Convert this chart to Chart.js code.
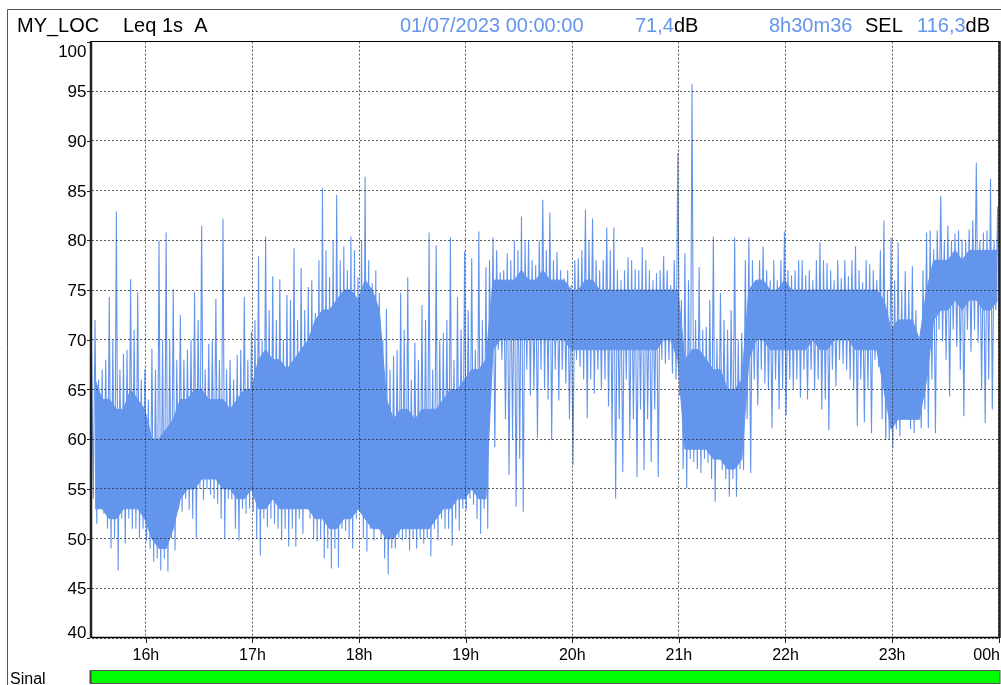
<!DOCTYPE html>
<html>
<head>
<meta charset="utf-8">
<script src="https://cdn.jsdelivr.net/npm/chart.js@4.4.1/dist/chart.umd.min.js"></script>
<style>
  html, body { margin: 0; padding: 0; background: #fff; }
  #wrap { width: 1001px; height: 685px; }
</style>
</head>
<body>
<div id="wrap"><canvas id="levelChart" width="1001" height="685"></canvas></div>
<script>
// DATA
const START_H = 15.49;   // 15:29:24
const END_H = 24;        // 00:00:00

const hourTicks = [16, 17, 18, 19, 20, 21, 22, 23, 24];
const hourLabels = ["16h", "17h", "18h", "19h", "20h", "21h", "22h", "23h", "00h"];
const levelTicks = [40, 45, 50, 55, 60, 65, 70, 75, 80, 85, 90, 95, 100];

// Leq 1s, max / min level in each 4 minute window (dB)
const windowMax = [
  72, 67, 74.3, 82.9, 68.6, 76.1, 74.8, 67, 69.1, 80,
  80.8, 75.1, 72.5, 69, 74.8, 81.5, 69.6, 74.1, 82.2, 68,
  68.5, 74.3, 70.8, 78.4, 80.4, 76.4, 76.1, 74.5, 79.2, 77.2,
  75.3, 72.7, 85.3, 76.3, 84.6, 79.4, 80.4, 76.3, 86.4, 75.7,
  74.7, 73.1, 68.4, 74.7, 76.3, 69.7, 73.5, 80.8, 79.5, 70.7,
  80.3, 74.3, 78.9, 78.2, 80.9, 77.3, 80.3, 76.8, 78.7, 80,
  82.4, 80, 77.5, 84.1, 82.8, 78.8, 76.2, 75.5, 78.2, 83.1,
  82.2, 77, 81.3, 81.3, 76, 78.3, 77.1, 79.3, 77, 76.7,
  78.4, 75.5, 88.8, 78.7, 95.7, 77.3, 71.3, 80.4, 74.7, 71,
  80.3, 70.7, 80.3, 76, 79.4, 76, 76, 80.9, 76.5, 78,
  76.5, 76, 79.8, 77.7, 76, 76.2, 76.4, 79.4, 75.8, 77.6,
  76, 82, 80.3, 79.8, 76.9, 77.4, 70, 80.8, 79.1, 84.5,
  81.5, 80.7, 80.1, 81.1, 87.8, 80.8, 86.2, 83.4
];
const windowMin = [
  51.5, 52.5, 49, 46.8, 49.5, 51, 50, 49.7, 47.7, 46.8,
  46.7, 48.8, 52.7, 52.9, 50, 53.9, 54.4, 53.5, 50, 53.9,
  49.8, 52.5, 52.7, 48.3, 51.2, 51.5, 49.8, 49.2, 49.2, 50.5,
  52, 49.7, 48, 47, 47.1, 50.8, 49, 53.5, 48.7, 49.8,
  50, 46.4, 49, 49.8, 48.8, 49, 49.5, 48.2, 49.8, 51,
  49.3, 50.8, 52.9, 53.4, 50.5, 51, 59.2, 68, 56.4, 53.2,
  52.7, 64.4, 60.1, 65.1, 59.9, 63.9, 65.6, 57.4, 67.3, 62.1,
  64.6, 65.1, 63.3, 54, 56.7, 60, 56.2, 56.9, 57.7, 56.2,
  67.6, 66.6, 64.4, 55.1, 57.7, 56.6, 57.6, 53.7, 56.9, 54.2,
  54.2, 56.9, 56.6, 63.4, 65.6, 61.1, 63, 62.4, 65, 64.2,
  64, 64.9, 63, 60.9, 65.3, 67.6, 66, 61.3, 61.7, 60.6,
  67.3, 59.9, 59.1, 60.3, 62.5, 60.6, 61.1, 61.1, 60.6, 69.8,
  64.3, 69.3, 62.3, 68.8, 69.7, 61.6, 63, 72
];
// second highest / lowest spike in each window (dB)
const windowMax2 = [
  69, 66, 68, 70, 67, 69, 71, 66, 64, 67,
  70, 70, 68, 68, 70, 72, 67, 70, 68, 67,
  66, 69, 68, 72, 70, 73, 72, 70, 74, 72,
  73, 76, 78, 79, 80, 78, 77, 79, 80, 78,
  77, 70, 67, 69, 71, 66, 68, 72, 67, 70,
  72, 68, 71, 73, 69, 72, 78, 79, 77, 78,
  79, 80, 78, 80, 79, 78, 77, 77, 78, 79,
  80, 78, 78, 79, 77, 77, 78, 77, 78, 76,
  77, 77, 78, 74, 76, 72, 71, 74, 70, 72,
  73, 70, 78, 78, 78, 77, 78, 78, 77, 77,
  78, 77, 78, 78, 77, 78, 78, 78, 77, 78,
  77, 79, 75, 76, 75, 75, 73, 77, 81, 81,
  80, 80, 81, 80, 82, 80, 81, 80
];
const windowMin2 = [
  54, 53, 51, 50, 52, 52, 51, 51, 49, 48,
  48, 50, 53, 54, 52, 55, 55, 54, 52, 54,
  51, 53, 53, 50, 52, 52, 51, 51, 51, 52,
  53, 50, 50, 49, 49, 51, 50, 52, 50, 51,
  51, 48, 49, 50, 50, 50, 50, 50, 51, 52,
  51, 52, 53, 54, 52, 53, 66, 69, 62, 60,
  58, 67, 65, 67, 64, 67, 67, 62, 68, 66,
  66, 67, 66, 60, 62, 66, 62, 63, 62, 63,
  68, 68, 66, 57, 58, 57, 58, 56, 58, 56,
  56, 57, 62, 66, 67, 65, 66, 65, 66, 66,
  67, 67, 66, 64, 67, 68, 67, 65, 66, 65,
  68, 62, 60, 61, 62, 61, 62, 63, 66, 71,
  68, 71, 67, 71, 71, 65, 66, 73
];

// dense core of the trace in the same 4 minute windows (dB)
const coreHigh = [
  66, 64, 64, 63, 63, 65, 64, 63, 60, 60,
  61, 62, 64, 64, 65, 65, 64, 64, 64, 63,
  64, 65, 65, 68, 69, 68, 68, 67, 68, 69,
  70, 72, 73, 73, 74, 75, 75, 74, 76, 75,
  73, 64, 62, 63, 63, 62, 63, 63, 63, 64,
  65, 65, 66, 67, 67, 68, 76, 76, 76, 76,
  77, 76, 76, 77, 76, 76, 76, 75, 75, 76,
  76, 75, 75, 75, 75, 75, 75, 75, 75, 75,
  75, 75, 75, 68, 69, 69, 68, 67, 67, 65,
  65, 66, 75, 76, 76, 75, 75, 76, 75, 75,
  75, 75, 75, 75, 75, 75, 75, 75, 75, 75,
  75, 74, 71, 72, 72, 72, 70, 75, 78, 78,
  78, 79, 78, 79, 79, 79, 79, 79
];
const coreLow = [
  53, 53, 52, 52, 53, 53, 53, 52, 50, 49,
  49, 51, 54, 55, 55, 56, 56, 56, 55, 55,
  54, 54, 55, 53, 53, 54, 53, 53, 53, 53,
  53, 52, 52, 51, 51, 52, 52, 53, 52, 51,
  51, 50, 50, 51, 51, 51, 51, 51, 52, 53,
  53, 54, 54, 55, 54, 54, 69, 70, 70, 70,
  70, 70, 70, 70, 70, 70, 70, 69, 69, 69,
  69, 69, 69, 69, 69, 69, 69, 69, 69, 69,
  70, 70, 68, 59, 59, 59, 59, 58, 58, 57,
  57, 58, 68, 70, 70, 69, 69, 69, 69, 69,
  69, 70, 69, 69, 70, 70, 70, 69, 69, 69,
  69, 65, 61, 62, 62, 62, 62, 66, 72, 73,
  73, 74, 73, 74, 74, 73, 73, 74
];

// STYLE
const BLUE = "#6495ed";
const FONT = "'Liberation Sans', Arial, sans-serif";

// trace: four readings per window, one per minute, high / low / high / low
const trace = [];
windowMax.forEach((v, k) => {
  const t0 = START_H + (4 * k) / 60;
  trace.push({ x: t0, y: windowMax2[k] });
  trace.push({ x: t0 + 1 / 60, y: windowMin2[k] });
  trace.push({ x: t0 + 2 / 60, y: v });
  trace.push({ x: t0 + 3 / 60, y: windowMin[k] });
});
const coreTop = coreHigh.map((v, k) => ({ x: START_H + (4 * k + 2) / 60, y: v }));
const coreBottom = coreLow.map((v, k) => ({ x: START_H + (4 * k + 2) / 60, y: v }));

// FRAME, HEADER, AXIS LABELS
const framePlugin = {
  id: "frame",
  afterDraw(chart) {
    const { ctx, chartArea: a, scales } = chart;
    ctx.save();

    // outer box
    ctx.strokeStyle = "#555";
    ctx.lineWidth = 1;
    ctx.beginPath();
    ctx.moveTo(7.5, 685);
    ctx.lineTo(7.5, 9.5);
    ctx.lineTo(1001, 9.5);
    ctx.stroke();

    // header
    ctx.font = `20px ${FONT}`;
    ctx.textBaseline = "alphabetic";
    const put = (txt, x, color) => {
      ctx.fillStyle = color;
      ctx.fillText(txt, x, 32);
      return x + ctx.measureText(txt).width;
    };
    put("MY_LOC", 17, "#000");
    put("Leq 1s  A", 123, "#000");
    put("01/07/2023 00:00:00", 400, BLUE);
    put("dB", put("71,4", 635, BLUE), "#000");
    put("8h30m36", 769, BLUE);
    put("SEL", 865, "#000");
    put("dB", put("116,3", 917, BLUE), "#000");

    // plot border
    ctx.strokeStyle = "#000";
    ctx.lineWidth = 1;
    ctx.beginPath();
    ctx.moveTo(a.left, 41.5);
    ctx.lineTo(999, 41.5);
    ctx.stroke();
    ctx.lineWidth = 1.5;
    ctx.beginPath();
    ctx.moveTo(a.left, a.bottom - 0.5);
    ctx.lineTo(999, a.bottom - 0.5);
    ctx.stroke();
    ctx.strokeStyle = "#222";
    ctx.lineWidth = 2.5;
    ctx.beginPath();
    ctx.moveTo(91, 41);
    ctx.lineTo(91, a.bottom);
    ctx.moveTo(999.5, 41);
    ctx.lineTo(999.5, a.bottom);
    ctx.stroke();

    // y ticks and labels
    ctx.fillStyle = "#000";
    ctx.strokeStyle = "#222";
    ctx.lineWidth = 1;
    ctx.font = `17px ${FONT}`;
    ctx.textAlign = "right";
    levelTicks.forEach(v => {
      const py = scales.y.getPixelForValue(v);
      ctx.beginPath();
      ctx.moveTo(87, Math.round(py) + 0.5);
      ctx.lineTo(90, Math.round(py) + 0.5);
      ctx.stroke();
      const cy = Math.min(Math.max(py, a.top + 9), a.bottom - 6);
      ctx.fillText(String(v), 86.5, cy + 6);
    });

    // x ticks and labels
    ctx.font = `16px ${FONT}`;
    ctx.textAlign = "center";
    hourTicks.forEach((h, i) => {
      const px = scales.x.getPixelForValue(h);
      ctx.beginPath();
      ctx.moveTo(Math.round(px) + 0.5, a.bottom);
      ctx.lineTo(Math.round(px) + 0.5, a.bottom + 5);
      ctx.stroke();
      const w = ctx.measureText(hourLabels[i]).width;
      const cx = Math.min(px, 1000 - w / 2);
      ctx.fillText(hourLabels[i], cx, 660);
    });

    // signal bar
    ctx.textAlign = "left";
    ctx.fillText("Sinal", 10, 683.5);
    ctx.fillStyle = "#00ff00";
    ctx.fillRect(91, 670.5, 909, 13);
    ctx.strokeStyle = "#555";
    ctx.strokeRect(90.5, 670.5, 909.5, 13);
    ctx.fillStyle = "#444";
    ctx.fillRect(89.5, 670.5, 2, 13);

    ctx.restore();
  }
};

// CHART
new Chart(document.getElementById("levelChart"), {
  type: "line",
  data: {
    datasets: [
      {
        data: coreTop,
        borderColor: BLUE,
        borderWidth: 1,
        pointRadius: 0,
        backgroundColor: BLUE,
        fill: "+1"
      },
      {
        data: coreBottom,
        borderColor: BLUE,
        borderWidth: 1,
        pointRadius: 0,
        fill: false
      },
      {
        data: trace,
        borderColor: BLUE,
        borderWidth: 1.1,
        pointRadius: 0,
        tension: 0,
        fill: false
      }
    ]
  },
  options: {
    responsive: false,
    animation: false,
    events: [],
    layout: { padding: { left: 0, top: 41.6, right: 2.3, bottom: 47 } },
    plugins: { legend: { display: false }, tooltip: { enabled: false } },
    scales: {
      x: {
        type: "linear",
        min: START_H,
        max: END_H,
        afterBuildTicks: s => { s.ticks = hourTicks.map(v => ({ value: v })); },
        afterFit: s => { s.height = 0; },
        ticks: { display: false },
        grid: { color: "rgba(40,40,40,0.75)", lineWidth: 1, drawTicks: false, z: 1 },
        border: { display: false, dash: [2, 2] }
      },
      y: {
        min: 40,
        max: 100,
        afterBuildTicks: s => { s.ticks = levelTicks.map(v => ({ value: v })); },
        afterFit: s => { s.width = 91.5; },
        ticks: { display: false },
        grid: { color: "rgba(40,40,40,0.75)", lineWidth: 1, drawTicks: false, z: 1 },
        border: { display: false, dash: [2, 2] }
      }
    }
  },
  plugins: [framePlugin]
});
</script>
</body>
</html>
